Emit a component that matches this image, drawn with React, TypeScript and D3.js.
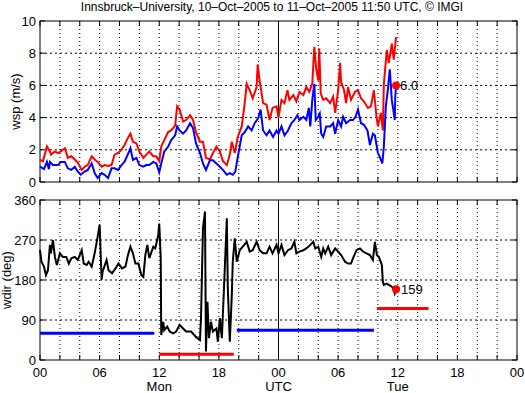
import React from 'react';
import * as d3 from 'd3';

// wind speed (m/s): red = gust, blue = mean, hours since 10-Oct 00 UTC
const gustHours = [0, 0.3, 0.7, 1.0, 1.1, 1.5, 1.8, 2.1, 2.5, 2.8, 3.15, 3.5, 3.8, 4.2, 4.5, 4.8, 5.2, 5.5, 5.8, 6.2, 6.5, 6.85, 7.2, 7.5, 7.85, 8.2, 8.5, 8.9, 9.1, 9.35, 9.7, 10.0, 10.4, 10.7, 11.0, 11.4, 11.7, 12.0, 12.2, 12.5, 12.9, 13.2, 13.6, 13.8, 14.05, 14.4, 14.7, 15.1, 15.4, 15.7, 16.1, 16.4, 16.7, 17.1, 17.4, 17.75, 18.1, 18.4, 18.8, 19.1, 19.3, 19.6, 19.9, 20.3, 20.6, 20.8, 21.1, 21.4, 21.8, 21.9, 22.1, 22.45, 22.8, 23.1, 23.4, 23.8, 24.0, 24.3, 24.6, 24.9, 25.1, 25.5, 25.8, 26.1, 26.5, 26.8, 27.1, 27.4, 27.6, 27.8, 28.0, 28.1, 28.25, 28.5, 28.8, 29.2, 29.5, 29.7, 30.0, 30.2, 30.3, 30.6, 30.8, 31.0, 31.3, 31.7, 32.0, 32.3, 32.6, 33.0, 33.3, 33.6, 33.85, 34.0, 34.3, 34.5, 34.6, 34.9, 35.1, 35.4, 35.6, 35.83];
const gust = [1.37, 1.3, 2.2, 1.9, 1.7, 1.9, 1.8, 1.9, 2.1, 1.5, 1.6, 1.4, 1.2, 0.75, 0.95, 1.05, 1.6, 1.4, 1.25, 0.95, 1.05, 1.0, 1.05, 1.7, 1.8, 2.0, 2.3, 2.8, 3.0, 2.5, 2.4, 1.9, 1.5, 1.7, 1.9, 1.6, 1.6, 1.3, 2.2, 2.6, 3.1, 3.2, 3.5, 4.7, 4.5, 3.75, 3.85, 4.15, 3.85, 3.1, 2.5, 2.5, 1.5, 1.4, 1.8, 2.2, 1.9, 1.3, 1.05, 1.7, 2.5, 1.8, 2.8, 3.45, 4.9, 6.1, 5.7, 5.2, 5.9, 7.3, 6.3, 4.9, 4.8, 3.85, 4.6, 4.7, 4.0, 5.1, 4.9, 5.7, 5.1, 5.4, 5.0, 5.6, 5.4, 5.9, 5.6, 6.1, 8.4, 7.0, 6.3, 8.3, 5.5, 5.1, 5.2, 4.9, 5.3, 4.3, 5.7, 7.4, 6.2, 5.7, 4.9, 5.9, 5.1, 5.6, 5.7, 5.2, 5.0, 4.6, 4.7, 5.7, 4.1, 3.45, 4.3, 3.2, 6.1, 8.2, 7.4, 8.6, 7.6, 9.0];

const meanHours = [0, 0.4, 0.7, 0.9, 1.0, 1.3, 1.8, 2.1, 2.5, 2.8, 3.15, 3.5, 3.8, 4.1, 4.5, 4.8, 5.2, 5.5, 5.8, 6.2, 6.5, 6.85, 7.2, 7.5, 7.85, 8.2, 8.5, 8.9, 9.1, 9.35, 9.7, 10.0, 10.4, 10.7, 11.0, 11.4, 11.7, 12.0, 12.2, 12.5, 12.9, 13.2, 13.6, 13.8, 14.05, 14.4, 14.7, 15.1, 15.4, 15.7, 16.1, 16.4, 16.7, 17.1, 17.4, 17.75, 18.1, 18.4, 18.8, 19.1, 19.4, 19.65, 19.9, 20.3, 20.6, 20.95, 21.3, 21.6, 21.95, 22.2, 22.45, 22.8, 23.1, 23.45, 23.8, 24.0, 24.3, 24.6, 24.95, 25.3, 25.6, 25.9, 26.1, 26.5, 26.8, 27.05, 27.2, 27.4, 27.6, 27.75, 28.0, 28.15, 28.3, 28.5, 28.8, 29.2, 29.5, 29.7, 30.0, 30.3, 30.5, 30.8, 31.2, 31.5, 31.75, 32.0, 32.3, 32.6, 32.95, 33.2, 33.5, 33.7, 34.0, 34.2, 34.45, 34.6, 34.8, 35.0, 35.2, 35.4, 35.55, 35.7, 35.75, 35.83];
const mean = [0.95, 0.8, 1.25, 0.8, 1.25, 1.05, 1.05, 1.25, 1.25, 0.85, 0.75, 0.95, 0.65, 0.45, 0.65, 0.75, 1.15, 0.55, 0.25, 0.55, 0.45, 0.25, 0.85, 0.85, 0.75, 1.05, 1.25, 1.8, 2.1, 1.37, 1.5, 1.05, 0.95, 1.05, 1.05, 1.25, 1.15, 0.6, 1.15, 1.9, 2.2, 2.6, 2.9, 3.45, 3.2, 3.0, 3.2, 3.65, 3.35, 2.4, 1.8, 1.15, 0.75, 1.35, 1.35, 1.15, 0.95, 0.75, 0.45, 0.55, 0.45, 0.65, 1.55, 2.9, 3.1, 3.45, 3.2, 3.65, 3.95, 4.5, 3.2, 2.9, 3.2, 2.8, 3.2, 3.0, 3.45, 2.9, 3.2, 3.65, 3.85, 4.15, 3.85, 4.05, 3.85, 4.6, 3.45, 5.1, 6.1, 3.85, 4.05, 4.25, 3.0, 2.8, 3.45, 3.45, 3.65, 3.0, 3.85, 3.45, 4.05, 3.65, 3.85, 3.85, 4.05, 4.5, 3.65, 3.55, 3.2, 2.3, 3.0, 2.9, 1.8, 1.55, 1.15, 2.2, 4.7, 5.7, 7.0, 5.1, 4.5, 3.85, 5.3, 6.0];

// wind direction (deg)
const dirHours = [0, 0.15, 0.4, 0.6, 0.8, 1.0, 1.1, 1.3, 1.5, 1.7, 2.0, 2.3, 2.65, 2.9, 3.15, 3.5, 3.8, 4.2, 4.4, 4.7, 4.9, 5.2, 5.5, 5.8, 6.0, 6.2, 6.3, 6.7, 6.9, 7.25, 7.6, 7.9, 8.25, 8.6, 8.85, 9.1, 9.35, 9.6, 9.9, 10.2, 10.4, 10.6, 10.8, 11.0, 11.4, 11.6, 11.9, 12.0, 12.15, 12.2, 12.4, 12.5, 12.8, 13.05, 13.4, 13.7, 14.05, 14.4, 14.7, 15.2, 15.7, 16.1, 16.2, 16.4, 16.6, 16.7, 16.85, 17.0, 17.2, 17.4, 17.75, 17.9, 18.1, 18.3, 18.5, 18.8, 18.9, 19.1, 19.3, 19.4, 19.6, 19.8, 20.1, 20.4, 20.8, 21.1, 21.4, 21.8, 22.1, 22.45, 22.8, 23.1, 23.4, 23.8, 24.0, 24.3, 24.6, 24.95, 25.3, 25.6, 25.8, 26.1, 26.5, 26.8, 27.2, 27.5, 27.7, 28.0, 28.3, 28.5, 28.7, 29.0, 29.3, 29.7, 30.0, 30.3, 30.7, 31.0, 31.3, 31.5, 31.85, 32.2, 32.5, 32.85, 33.2, 33.5, 33.7, 33.9, 34.1, 34.4, 34.5, 34.6, 34.9, 35.1, 35.4, 35.55, 35.7, 35.83];
const dir = [247, 221, 210, 191, 202, 259, 240, 270, 232, 214, 240, 232, 232, 217, 229, 232, 225, 247, 217, 214, 221, 210, 240, 277, 304, 180, 199, 225, 202, 195, 206, 217, 206, 210, 236, 255, 240, 217, 217, 191, 187, 236, 259, 229, 255, 251, 281, 307, 229, 56, 86, 67, 75, 64, 60, 64, 79, 71, 64, 64, 52, 45, 94, 296, 334, 19, 131, 49, 86, 64, 71, 41, 94, 49, 154, 319, 161, 41, 146, 221, 274, 221, 247, 255, 266, 244, 247, 266, 247, 240, 240, 255, 240, 259, 240, 259, 236, 247, 251, 266, 240, 244, 247, 251, 259, 266, 251, 255, 232, 251, 240, 255, 236, 251, 244, 236, 221, 217, 217, 229, 247, 251, 244, 240, 236, 225, 266, 236, 232, 214, 176, 169, 172, 169, 165, 161, 150, 159];

// direction period bars
const barStart = [0, 12, 19.8, 33.9];
const barEnd = [11.5, 19.5, 33.6, 39.1];
const barDir = [60, 13, 67, 116];
const barColor = ['#0000ff', '#ff0000', '#0000ff', '#ff0000'];

const wspTicks = [0, 2, 4, 6, 8, 10];
const dirTicks = [0, 90, 180, 270, 360];
const hourTicks = [0, 6, 12, 18, 24, 30, 36, 42, 48];
const hourLabels = ['00', '06', '12', '18', '00', '06', '12', '18', '00'];
const dayHours = [12, 24, 36];
const dayLabels = ['Mon', 'UTC', 'Tue'];

const lastHour = 35.83;
const lastWsp = 6.0;
const lastDir = 159;

const FONT = '"Liberation Sans", Arial, Helvetica, sans-serif';

export default function App() {
  const W = 525, H = 393;
  const left = 40, right = 517;
  const x = d3.scaleLinear().domain([0, 48]).range([left, right]);
  const yW = d3.scaleLinear().domain([0, 10]).range([182, 21]);
  const yD = d3.scaleLinear().domain([0, 360]).range([360, 200]);
  const grid2h = d3.range(0, 49, 2);

  const lineOf = (hs: number[], vs: number[], y: d3.ScaleLinear<number, number>) =>
    d3.line<number>().x((_, i) => x(hs[i])).y((v) => y(v))(vs) || '';

  const panel = (y: d3.ScaleLinear<number, number>, ticks: number[], key: string) => {
    const [y0, y1] = y.range();
    return (
      <g key={key}>
        {ticks.slice(1, -1).map((t) => (
          <line key={'h' + t} x1={left} x2={right} y1={y(t)} y2={y(t)} stroke="#000" strokeWidth={1} strokeDasharray="2,3" />
        ))}
        {grid2h.slice(1, -1).map((h) => (
          <line key={'v' + h} x1={x(h)} x2={x(h)} y1={y1} y2={y0} stroke="#000" strokeWidth={1}
            strokeDasharray={h === 24 ? undefined : '1,3'} />
        ))}
        {grid2h.map((h) => (
          <g key={'t' + h}>
            <line x1={x(h)} x2={x(h)} y1={y0} y2={y0 - 5} stroke="#000" />
            <line x1={x(h)} x2={x(h)} y1={y1} y2={y1 + 5} stroke="#000" />
          </g>
        ))}
        {ticks.map((t) => (
          <g key={'yt' + t}>
            <line x1={left} x2={left + 5} y1={y(t)} y2={y(t)} stroke="#000" />
            <line x1={right} x2={right - 5} y1={y(t)} y2={y(t)} stroke="#000" />
            <text x={36} y={y(t)} dy="0.36em" textAnchor="end" fontSize={13}>{t}</text>
          </g>
        ))}
        <rect x={left} y={y1} width={right - left} height={y0 - y1} fill="none" stroke="#000" strokeWidth={1} />
      </g>
    );
  };

  return (
    <svg width={W} height={H} style={{ position: 'absolute', left: 0, top: 0, background: '#fff' }} fontFamily={FONT}>
      <rect width={W} height={H} fill="#fff" />
      <text x={272} y={11} textAnchor="middle" fontSize={12}>
        Innsbruck–University, 10–Oct–2005 to 11–Oct–2005 11:50 UTC, © IMGI
      </text>

      {panel(yW, wspTicks, 'top')}
      <path d={lineOf(gustHours, gust, yW)} fill="none" stroke="#ff0000" strokeWidth={2} />
      <path d={lineOf(meanHours, mean, yW)} fill="none" stroke="#0000ff" strokeWidth={2} />
      <circle cx={x(lastHour)} cy={yW(lastWsp)} r={4} fill="#ff0000" />
      <text x={x(lastHour) + 4} y={yW(lastWsp)} dy="0.36em" fontSize={13}>{lastWsp.toFixed(1)}</text>
      <text transform={`translate(20,${(yW(0) + yW(10)) / 2}) rotate(-90)`} textAnchor="middle" fontSize={13}>wsp (m/s)</text>

      {panel(yD, dirTicks, 'bottom')}
      {barStart.map((s, i) => (
        <line key={'bar' + i} x1={x(s)} x2={x(barEnd[i])} y1={yD(barDir[i])} y2={yD(barDir[i])} stroke={barColor[i]} strokeWidth={3} />
      ))}
      <path d={lineOf(dirHours, dir, yD)} fill="none" stroke="#000" strokeWidth={2} />
      <circle cx={x(lastHour)} cy={yD(lastDir)} r={4} fill="#ff0000" />
      <text x={x(lastHour) + 5} y={yD(lastDir)} dy="0.36em" fontSize={13}>{lastDir}</text>
      <text transform={`translate(11,${(yD(0) + yD(360)) / 2}) rotate(-90)`} textAnchor="middle" fontSize={13}>wdir (deg)</text>

      {hourTicks.map((h, i) => (
        <text key={'xl' + h} x={x(h)} y={377} textAnchor="middle" fontSize={13}>{hourLabels[i]}</text>
      ))}
      {dayHours.map((h, i) => (
        <text key={'dl' + h} x={x(h)} y={391} textAnchor="middle" fontSize={13}>{dayLabels[i]}</text>
      ))}
    </svg>
  );
}
